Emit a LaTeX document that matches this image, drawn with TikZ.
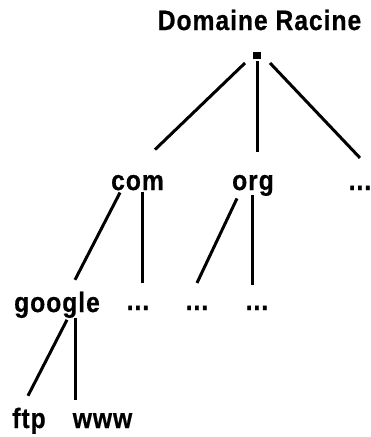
\documentclass[tikz,border=0pt]{standalone}
\usepackage{fontspec}
\setmainfont[LetterSpace=3.5,FakeStretch=0.88,BoldFeatures={FakeBold=0.6}]{Liberation Sans}
\usetikzlibrary{calc}
\tikzset{
  lbl/.style={font=\fontsize{28}{32}\bfseries\selectfont, inner sep=0pt, anchor=base},
  conn/.style={line width=3pt, draw=black},
  rootbox/.style={fill=black, minimum width=8pt, minimum height=7.5pt, inner sep=0pt}
}
\begin{document}
\begin{tikzpicture}[x=1pt,y=-1pt]
\useasboundingbox (0,0) rectangle (371,437);
\node[lbl] (title) at (259.5,30) {Domaine Racine};
\node[rootbox] (root) at (257,55.5) {};
\node[lbl] (com) at (137.5,190) {com};
\node[lbl] (org) at (253,190) {org};
\node[lbl] (more) at (360,190) {...};
\node[lbl] (google) at (57,312) {google};
\node[lbl] (comdots) at (138,310) {...};
\node[lbl] (orgdotsa) at (197,310) {...};
\node[lbl] (orgdotsb) at (257,310) {...};
\node[lbl] (ftp) at (29,428) {ftp};
\node[lbl] (www) at (102.5,428) {www};
\draw[conn] ($(root)+(-12,7.5)$) -- ($(com)+(17.5,-33)$);
\draw[conn] ($(root)+(0,5.5)$) -- ($(org)+(4,-33)$);
\draw[conn] ($(root)+(13,7.5)$) -- ($(more)+(0,-30)$);
\draw[conn] ($(com)+(-17.5,10)$) -- ($(google)+(18,-25)$);
\draw[conn] ($(com)+(4.5,9)$) -- ($(comdots)+(4,-25)$);
\draw[conn] ($(org)+(-16,13)$) -- ($(orgdotsa)+(0,-25)$);
\draw[conn] ($(org)+(-1,10)$) -- ($(orgdotsb)+(-5,-23)$);
\draw[conn] ($(google)+(10,15)$) -- ($(ftp)+(-1,-25)$);
\draw[conn] ($(google)+(18,13)$) -- ($(www)+(-27.5,-21)$);
\end{tikzpicture}
\end{document}
